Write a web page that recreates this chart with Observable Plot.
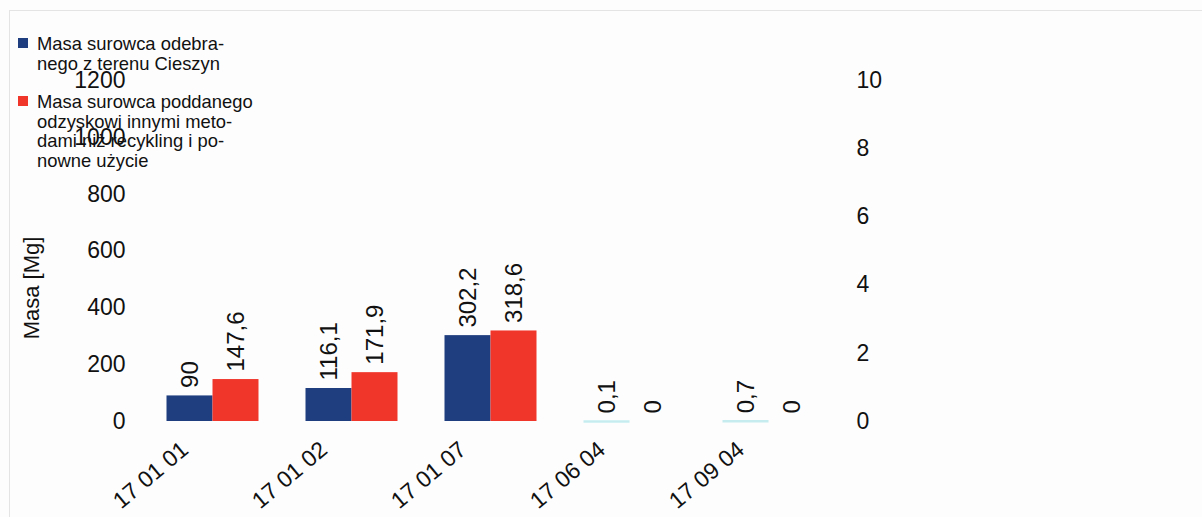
<!DOCTYPE html>
<html>
<head>
<meta charset="utf-8">
<script src="https://cdn.jsdelivr.net/npm/d3@7"></script>
<script src="https://cdn.jsdelivr.net/npm/@observablehq/plot@0.6"></script>
<style>
  html, body { margin: 0; padding: 0; background: #fdfdfd; }
  #wrap { position: relative; width: 1202px; height: 517px; font-family: "Liberation Sans", Arial, sans-serif; color: #111; }
  #frame { position: absolute; left: 9px; top: 10px; right: 0; bottom: 0; border-top: 1px solid #e4e4e4; border-left: 1px solid #e4e4e4; }
  #legend { position: absolute; left: 18px; top: 34px; font-size: 18.4px; line-height: 19.5px; }
  .item { position: relative; padding-left: 19px; margin-bottom: 19px; }
  .sw { position: absolute; left: 0; top: 4px; width: 10px; height: 10px; }
  #ylab { position: absolute; left: 32px; top: 288px; font-size: 22px; transform: translate(-50%, -50%) rotate(-90deg); white-space: nowrap; }
  svg { position: absolute; left: 0; top: 0; }
</style>
</head>
<body>
<div id="wrap">
  <div id="frame"></div>
  <div id="chart"></div>
  <div id="ylab">Masa [Mg]</div>
  <div id="legend"></div>
</div>
<script>
const categories = ["17 01 01", "17 01 02", "17 01 07", "17 06 04", "17 09 04"];
const collected = [90, 116.1, 302.2, 0.1, 0.7];
const recovered = [147.6, 171.9, 318.6, 0, 0];
const seriesKeys = ["a", "b"];
const seriesLines = [
  ["Masa surowca odebra-", "nego z terenu Cieszyn"],
  ["Masa surowca poddanego", "odzyskowi innymi meto-", "dami niż recykling i po-", "nowne użycie"]
];
const seriesColors = ["#1f3e7f", "#f0352b"];
const tinyColor = "#c6ecef";
const leftTicks = [0, 200, 400, 600, 800, 1000, 1200];
const rightTicks = [0, 2, 4, 6, 8, 10];
const leftMax = 1200, rightMax = 10;

const rows = [];
categories.forEach((c, i) => {
  rows.push({cat: c, series: "a", value: collected[i]});
  rows.push({cat: c, series: "b", value: recovered[i]});
});
const fmt = v => String(v).replace(".", ",");
const colorOf = d => d.series === "a" ? seriesColors[0] : seriesColors[1];

const chart = Plot.plot({
  width: 1202,
  height: 517,
  marginLeft: 142.5,
  marginRight: 364.5,
  marginTop: 80,
  marginBottom: 96,
  style: {fontFamily: "Liberation Sans, Arial, sans-serif", background: "transparent", color: "#111"},
  fx: {domain: categories, padding: 0, label: null},
  x: {domain: seriesKeys, paddingInner: 0, paddingOuter: 0.51, axis: null},
  y: {domain: [0, leftMax], axis: null},
  color: {type: "identity"},
  marks: [
    Plot.barY(rows.filter(d => d.value >= 1), {fx: "cat", x: "series", y: "value", fill: colorOf}),
    Plot.tickY(rows.filter(d => d.value > 0 && d.value < 1), {fx: "cat", x: "series", y: "value", stroke: tinyColor, strokeWidth: 2.5}),
    Plot.text(rows, {fx: "cat", x: "series", y: "value", text: d => fmt(d.value), rotate: -90, textAnchor: "start", dy: -8, fontSize: 24, fill: "#111"}),
    Plot.axisY(leftTicks, {anchor: "left", tickSize: 0, tickPadding: 18, fontSize: 23, label: null, tickFormat: d => String(d)}),
    Plot.axisY(rightTicks.map(v => v * leftMax / rightMax), {anchor: "right", tickSize: 0, tickPadding: 18, fontSize: 23, label: null, tickFormat: d => String(Math.round(d * rightMax / leftMax))}),
    Plot.axisFx({anchor: "bottom", tickRotate: -40, tickSize: 0, tickPadding: 4, fontSize: 23, label: null, dx: -28, dy: 21})
  ]
});
document.getElementById("chart").appendChild(chart);

const legend = document.getElementById("legend");
seriesLines.forEach((lines, i) => {
  const item = document.createElement("div");
  item.className = "item";
  const sw = document.createElement("div");
  sw.className = "sw";
  sw.style.background = seriesColors[i];
  item.appendChild(sw);
  lines.forEach(l => {
    const ln = document.createElement("div");
    ln.textContent = l;
    item.appendChild(ln);
  });
  legend.appendChild(item);
});
</script>
</body>
</html>
